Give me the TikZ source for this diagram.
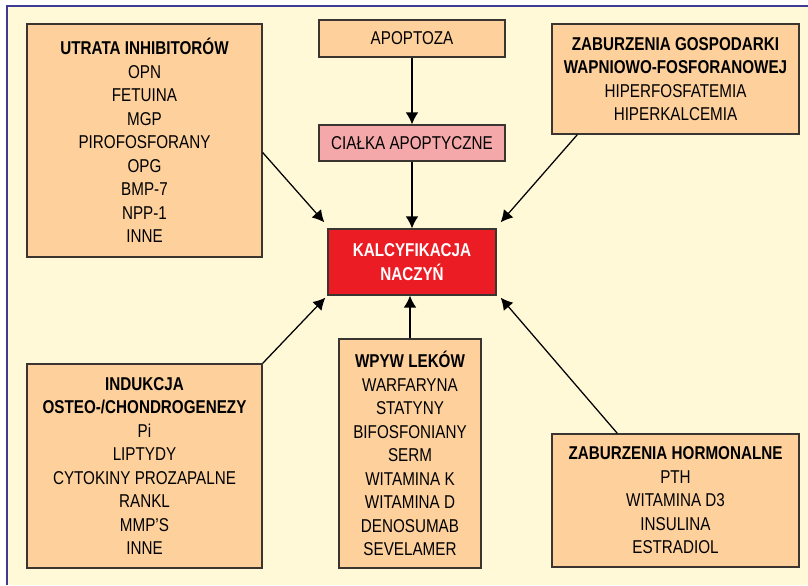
\documentclass[tikz,border=0pt]{standalone}
\usepackage{fontspec}
\setmainfont[FakeStretch = 0.82]{Liberation Sans}
\usetikzlibrary{arrows.meta, calc}
\definecolor{cream}{HTML}{FFF9D8}
\definecolor{peach}{HTML}{FDD09C}
\definecolor{rose}{HTML}{F4A8A9}
\definecolor{alarm}{HTML}{EC1C24}
\definecolor{frame}{HTML}{3C3C96}
\definecolor{boxline}{HTML}{3A3530}

\begin{document}
\begin{tikzpicture}[x = 0.025cm, y = -0.025cm, > = {Latex[length = 8.5pt, width = 9pt]}, font = {\fontsize{13.2}{16.7}\selectfont}]
\tikzset{
  block/.style = {draw = boxline, fill = peach, rectangle, align = center, inner sep = 0pt, line width = 0.9pt},
  link/.style = {->, line width = 0.9pt},
}
\useasboundingbox (0,0) rectangle (808,585);
% background
\fill [cream] (8,7) rectangle (808,585);
\draw [frame, line width = 1.7pt] (7,585) -- (7,6) -- (808,6);

\node [block, minimum width = 5.875cm, minimum height = 5.825cm] (utrata) at (144.5,140.5)
  {\textbf{UTRATA INHIBITORÓW}\\OPN\\FETUINA\\MGP\\PIROFOSFORANY\\OPG\\BMP-7\\NPP-1\\INNE};
\node [block, minimum width = 4.65cm, minimum height = 0.925cm] (apoptoza) at (412,38.5) {APOPTOZA};
\node [block, fill = rose, minimum width = 4.65cm, minimum height = 0.9cm] (cialka) at (412,143) {CIAŁKA APOPTYCZNE};
\node [block, minimum width = 6.175cm, minimum height = 2.75cm] (gospodarka) at (675.5,79)
  {\textbf{ZABURZENIA GOSPODARKI}\\\textbf{WAPNIOWO-FOSFORANOWEJ}\\HIPERFOSFATEMIA\\HIPERKALCEMIA};
\node [block, fill = alarm, text = white, minimum width = 4.2cm, minimum height = 1.65cm] (kalcyfikacja) at (412,262)
  {\textbf{KALCYFIKACJA}\\\textbf{NACZYŃ}};
\node [block, minimum width = 5.875cm, minimum height = 5.1cm] (indukcja) at (144.5,466)
  {\textbf{INDUKCJA}\\\textbf{OSTEO-/CHONDROGENEZY}\\Pi\\LIPTYDY\\CYTOKINY PROZAPALNE\\RANKL\\MMP'S\\INNE};
\node [block, minimum width = 3.55cm, minimum height = 5.725cm] (leki) at (410,453.5)
  {\textbf{WPYW LEKÓW}\\WARFARYNA\\STATYNY\\BIFOSFONIANY\\SERM\\WITAMINA K\\WITAMINA D\\DENOSUMAB\\SEVELAMER};
\node [block, minimum width = 6.175cm, minimum height = 3.325cm] (hormony) at (675.5,500.5)
  {\textbf{ZABURZENIA HORMONALNE}\\PTH\\WITAMINA D3\\INSULINA\\ESTRADIOL};

\draw [link] (apoptoza) -- (cialka);
\draw [link] (cialka) -- (kalcyfikacja);
\draw [link] ($(utrata.east)+(0,12)$) -- ($(kalcyfikacja.north west)+(-3,-6)$);
\draw [link] ($(gospodarka.south west)+(26,0)$) -- ($(kalcyfikacja.north east)+(4,-6)$);
\draw [link] (indukcja.north east) -- ($(kalcyfikacja.south west)+(-2,2)$);
\draw [link] (leki.north) -- (leki.north |- kalcyfikacja.south);
\draw [link] ($(hormony.north west)+(66,0)$) -- ($(kalcyfikacja.south east)+(4,2)$);
\end{tikzpicture}
\end{document}
